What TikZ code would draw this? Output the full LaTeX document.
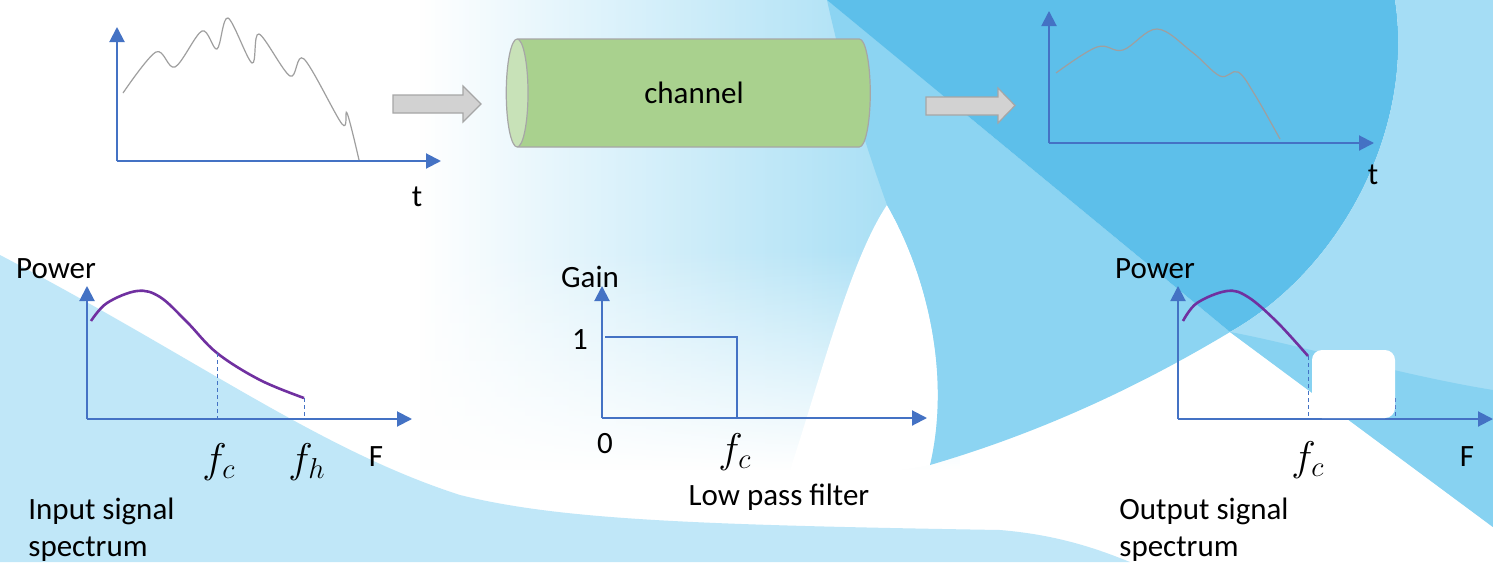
\documentclass[tikz,border=0pt]{standalone}
\usepackage{fontspec}
\setmainfont{Carlito}
\usepackage{tikz}
\usetikzlibrary{arrows.meta,positioning,calc,shapes.geometric,fadings}
\definecolor{axblue}{RGB}{68,114,196}
\definecolor{sigpurple}{RGB}{112,48,160}
\definecolor{chgreen}{RGB}{169,209,142}
\definecolor{chlight}{RGB}{200,226,184}
\definecolor{skydeep}{RGB}{93,191,234}
\definecolor{skymid}{RGB}{140,212,242}
\definecolor{skyring}{RGB}{165,221,245}
\definecolor{skypale}{RGB}{192,231,248}
\tikzfading[name=hazeright, left color=transparent!100, right color=transparent!0]
\tikzfading[name=hazedown, top color=transparent!100, bottom color=transparent!0]

\begin{document}
\begin{tikzpicture}[x=0.5pt, y=-0.5pt,
  axis/.style={axblue, line width=1pt, -{Triangle[length=7.5pt, width=7.5pt]}},
  wave/.style={gray!75, line width=0.6pt},
  spec/.style={sigpurple, line width=1.3pt},
  cutline/.style={axblue, line width=0.5pt, dash pattern=on 2pt off 1.5pt},
  gainline/.style={axblue, line width=0.8pt},
  blockarr/.style={draw=gray!70, fill=gray!35, line width=0.6pt},
  lbl/.style={font=\fontsize{15.5}{18.5}\selectfont, inner sep=0pt},
  mathlbl/.style={font=\fontsize{21}{24}\selectfont, inner sep=0pt},
  caption/.style={lbl, align=left, anchor=north west},
  hidebox/.style={fill=white, rounded corners=5pt, minimum width=41.5pt, minimum height=34pt, inner sep=0pt}
]
  \useasboundingbox (0,0) rectangle (1493,562);

  % Background
  \begin{scope}
    \clip (0,0) rectangle (1493,562);
    \fill[white] (0,0) rectangle (1493,562);
    \fill[skymid!85!white, path fading=hazeright] (420,0) rectangle (960,470);
    \fill[white, path fading=hazedown] (420,250) rectangle (960,470);
    \fill[skypale] (0,255) .. controls (200,360) and (320,450) .. (460,495)
      .. controls (560,520) and (700,525) .. (1000,530) .. controls (1060,535) and (1100,550) .. (1130,562)
      -- (0,562) -- cycle;
    \fill[white] (790,470) .. controls (820,380) and (850,260) .. (887,205)
      .. controls (930,280) and (950,380) .. (930,465) .. controls (880,475) and (830,478) .. (790,470);
    \fill[skymid] (827,0) -- (1230,332) .. controls (1150,380) and (1050,430) .. (930,465)
      .. controls (950,380) and (930,280) .. (887,205) .. controls (860,130) and (840,60) .. (827,0);
    \fill[skydeep] (827,0) -- (1395,0) .. controls (1415,130) and (1340,270) .. (1230,332) -- cycle;
    \fill[skyring] (1395,0) -- (1493,0) -- (1493,527) -- (1230,332)
      .. controls (1340,270) and (1415,130) .. (1395,0);
    \fill[skymid!90!skydeep] (1230,332) -- (1493,527) -- (1493,390)
      .. controls (1400,375) and (1300,345) .. (1230,332);
  \end{scope}

  % Input signal
  \coordinate (ti0) at (117,161);
  \coordinate (tiy) at (117,27);
  \coordinate (tix) at (441,161);
  \draw[axis] (ti0) -- (tiy);
  \draw[axis] (ti0) -- (tix);
  \draw[wave] plot[smooth, tension=0.55] coordinates {(123,93) (156,52) (175,67) (202,31) (217,49) (228,18)
    (252,63) (259,34) (290,76) (304,59) (342,124) (347,113) (359,160)};
  \node[lbl] (tit) at (417,197) {t};

  % Channel
  \filldraw[blockarr] (393,95) -- (463,95) -- (463,86) -- (481,104) -- (463,122) -- (463,113) -- (393,113) -- cycle;
  \node[cylinder, shape border rotate=180, aspect=1, draw=gray!70, line width=0.6pt,
        cylinder uses custom fill, cylinder body fill=chgreen, cylinder end fill=chlight,
        minimum width=54pt, minimum height=182pt, lbl] (chan) at (694,93) {channel};
  \filldraw[blockarr] (926,97) -- (998,97) -- (998,88) -- (1015,105.5) -- (998,123) -- (998,115) -- (926,115) -- cycle;

  % Output signal
  \coordinate (to0) at (1049,143);
  \coordinate (toy) at (1049,11);
  \coordinate (tox) at (1374,143);
  \draw[axis] (to0) -- (toy);
  \draw[axis] (to0) -- (tox);
  \draw[wave] plot[smooth, tension=0.6] coordinates {(1056,73) (1097,47) (1123,50) (1157,29) (1192,52)
    (1220,76) (1238,72) (1255,95) (1280,139)};
  \node[lbl] (tot) at (1373,175) {t};

  % Input spectrum
  \coordinate (si0) at (87,419);
  \coordinate (siy) at (87,286);
  \coordinate (six) at (412,419);
  \draw[axis] (si0) -- (siy);
  \draw[axis] (si0) -- (six);
  \draw[spec] plot[smooth, tension=0.6] coordinates {(91,321) (107,303) (137,291) (160,297) (187,322)
    (217,353) (260,380) (304,398)};
  \draw[cutline] (217,353) -- (217,419);
  \draw[cutline] (304,398) -- (304,419);
  \node[lbl] (sipow) at (56,269) {Power};
  \node[mathlbl] (sifc) at (219,462) {$f_c$};
  \node[mathlbl] (sifh) at (307,462) {$f_h$};
  \node[lbl] (siF) at (376,457) {F};
  \node[caption] (sicap) at (28,498) {Input signal\\spectrum};

  % Low pass filter
  \coordinate (lp0) at (602,418);
  \coordinate (lpy) at (602,286);
  \coordinate (lpx) at (927,418);
  \draw[axis] (lp0) -- (lpy);
  \draw[axis] (lp0) -- (lpx);
  \draw[gainline] (605,337) -- (737,337) -- (737,418);
  \node[lbl] (lpgain) at (590,277) {Gain};
  \node[lbl] (lpone) at (580,340) {1};
  \node[lbl] (lpzero) at (605,444) {0};
  \node[mathlbl] (lpfc) at (735,452) {$f_c$};
  \node[lbl] (lpcap) at (779,497) {Low pass filter};

  % Output spectrum
  \coordinate (so0) at (1178,419);
  \coordinate (soy) at (1178,286);
  \coordinate (sox) at (1493,419);
  \draw[axis] (so0) -- (soy);
  \draw[axis] (so0) -- (sox);
  \draw[spec] plot[smooth, tension=0.6] coordinates {(1183,321) (1197,303) (1227,291) (1248,297)
    (1277,322) (1308,356)};
  \draw[cutline] (1308,356) -- (1308,419);
  \draw[cutline] (1395,398) -- (1395,419);
  \node[hidebox] (somask) at (1353.5,384) {};
  \node[lbl] (sopow) at (1155,269) {Power};
  \node[mathlbl] (sofc) at (1308,460) {$f_c$};
  \node[lbl] (soF) at (1467,457) {F};
  \node[caption] (socap) at (1119,498) {Output signal\\spectrum};
\end{tikzpicture}
\end{document}
